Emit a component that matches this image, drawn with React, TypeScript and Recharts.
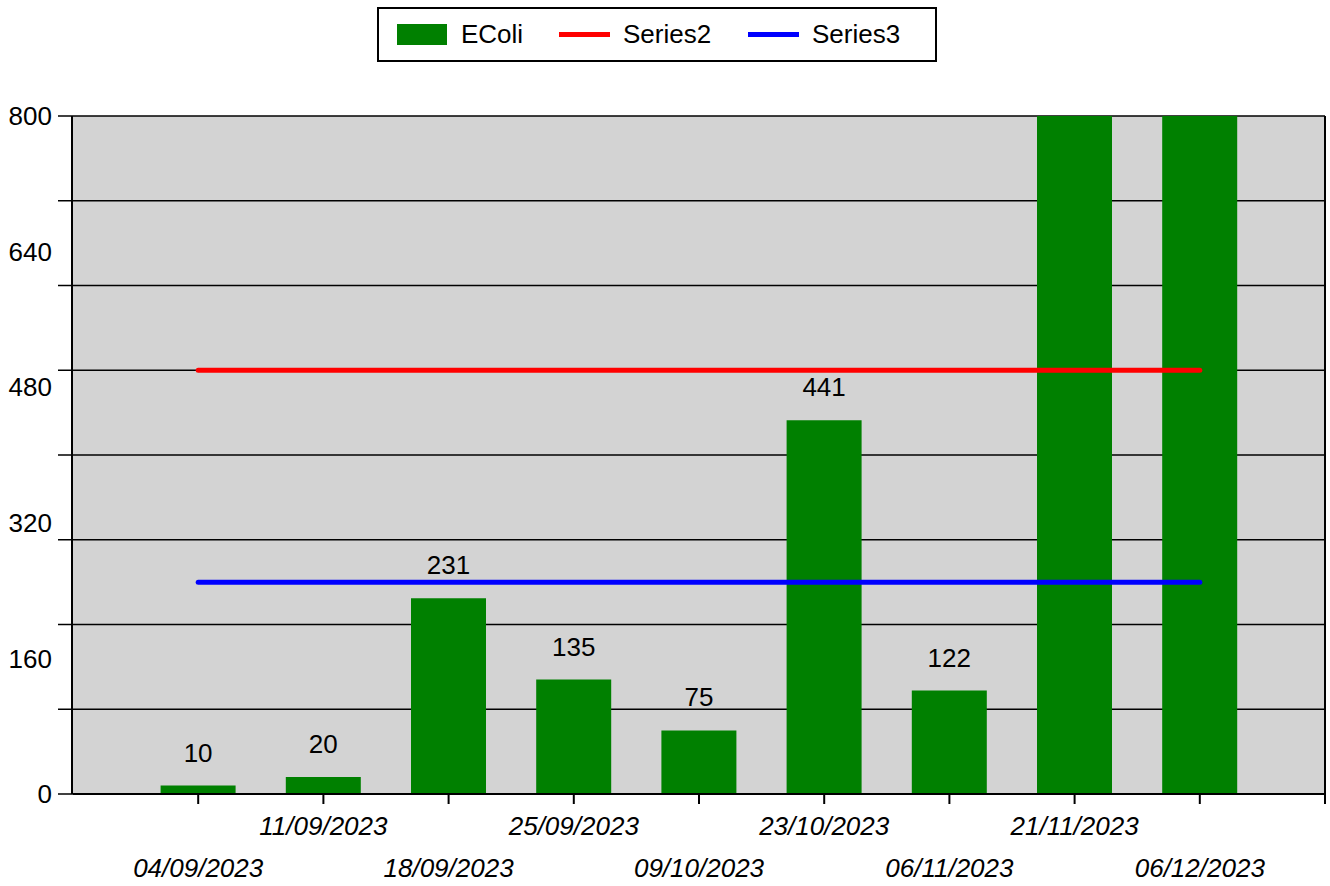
import React from "react";
import {
  ComposedChart,
  Bar,
  Line,
  XAxis,
  YAxis,
  CartesianGrid,
  Legend,
  LabelList,
} from "recharts";

const categories = [
  "04/09/2023",
  "11/09/2023",
  "18/09/2023",
  "25/09/2023",
  "09/10/2023",
  "23/10/2023",
  "06/11/2023",
  "21/11/2023",
  "06/12/2023",
];
const ecoli = [10, 20, 231, 135, 75, 441, 122, 1000, 1000];
const series2 = [500, 500, 500, 500, 500, 500, 500, 500, 500];
const series3 = [250, 250, 250, 250, 250, 250, 250, 250, 250];
const yLabelTicks = [0, 160, 320, 480, 640, 800];
const yGridTicks = [0, 100, 200, 300, 400, 500, 600, 700, 800];
const xTicks = [1, 2, 3, 4, 5, 6, 7, 8, 9, 10];

const data = categories.map((c, i) => ({
  x: i + 1,
  date: c,
  ecoli: ecoli[i],
  s2: series2[i],
  s3: series3[i],
}));

const FONT = "'Liberation Sans', Arial, sans-serif";
const FS = 26;

const XTick = (props: any) => {
  const { x, y, payload } = props;
  const idx = payload.value - 1;
  if (idx < 0 || idx >= categories.length) return null;
  const dy = idx % 2 === 0 ? 71 : 29;
  return (
    <text
      x={x}
      y={y + dy}
      textAnchor="middle"
      fontStyle="italic"
      fontFamily={FONT}
      fontSize={FS}
      fill="#000"
    >
      {categories[idx]}
    </text>
  );
};

const EmptyTick = () => <g />;

const BarLabel = (props: any) => {
  const { x, y, width, value } = props;
  if (value > 800) return null;
  return (
    <text
      x={x + width / 2}
      y={y - 24}
      textAnchor="middle"
      fontFamily={FONT}
      fontSize={FS}
      fill="#000"
    >
      {value}
    </text>
  );
};

const legendItems = [
  { name: "EColi", color: "#008000", kind: "rect", mx: 20, tx: 84 },
  { name: "Series2", color: "#ff0000", kind: "line", mx: 182, tx: 246 },
  { name: "Series3", color: "#0000ff", kind: "line", mx: 371, tx: 435 },
];

const LegendBox = () => (
  <div
    style={{
      position: "relative",
      width: 560,
      height: 55,
      boxSizing: "border-box",
      border: "2px solid #000",
      background: "#fff",
      fontFamily: FONT,
      fontSize: FS,
    }}
  >
    {legendItems.map((it) => (
      <React.Fragment key={it.name}>
        {it.kind === "rect" ? (
          <div
            style={{
              position: "absolute",
              left: it.mx - 2,
              top: 15,
              width: 50,
              height: 21,
              background: it.color,
            }}
          />
        ) : (
          <div
            style={{
              position: "absolute",
              left: it.mx - 2,
              top: 23,
              width: 51,
              height: 5,
              background: it.color,
            }}
          />
        )}
        <div
          style={{
            position: "absolute",
            left: it.tx - 2,
            top: 10,
            lineHeight: "30px",
            color: "#000",
            whiteSpace: "nowrap",
          }}
        >
          {it.name}
        </div>
      </React.Fragment>
    ))}
  </div>
);

export default function App() {
  return (
    <div style={{ position: "absolute", left: 0, top: 0, width: 1330, height: 886, background: "#fff" }}>
      <ComposedChart
        width={1330}
        height={886}
        data={data}
        margin={{ top: 61, right: 4, bottom: 0, left: 0 }}
      >
        <CartesianGrid
          yAxisId="val"
          horizontal={true}
          vertical={false}
          horizontalValues={yGridTicks}
          fill="#d3d3d3"
          fillOpacity={1}
          stroke="#000"
          strokeWidth={1.5}
        />
        <XAxis
          type="number"
          dataKey="x"
          domain={[0, 10]}
          ticks={xTicks}
          interval={0}
          height={92}
          axisLine={{ stroke: "#000", strokeWidth: 2 }}
          tickLine={{ stroke: "#000", strokeWidth: 2 }}
          tickSize={10}
          tickMargin={2}
          tick={<XTick />}
        />
        <YAxis
          yAxisId="grid"
          domain={[0, 800]}
          allowDataOverflow={true}
          ticks={yGridTicks}
          interval={0}
          width={1}
          axisLine={false}
          tickLine={{ stroke: "#000", strokeWidth: 1.5 }}
          tickSize={15}
          tick={<EmptyTick />}
        />
        <YAxis
          yAxisId="val"
          domain={[0, 800]}
          allowDataOverflow={true}
          ticks={yLabelTicks}
          interval={0}
          width={72}
          axisLine={{ stroke: "#000", strokeWidth: 2 }}
          tickLine={false}
          tickSize={15}
          tickMargin={5}
          tick={{ fill: "#000", fontFamily: FONT, fontSize: FS }}
        />
        <YAxis
          yAxisId="right"
          orientation="right"
          domain={[0, 800]}
          width={1}
          axisLine={{ stroke: "#000", strokeWidth: 2 }}
          tickLine={false}
          tick={<EmptyTick />}
        />
        <Legend
          verticalAlign="top"
          content={() => <LegendBox />}
          wrapperStyle={{ position: "absolute", left: 377, top: 7, width: 560, height: 55 }}
        />
        <Bar
          yAxisId="val"
          dataKey="ecoli"
          name="EColi"
          fill="#008000"
          barSize={75}
          isAnimationActive={false}
        >
          <LabelList dataKey="ecoli" content={<BarLabel />} />
        </Bar>
        <Line
          yAxisId="val"
          dataKey="s2"
          name="Series2"
          stroke="#ff0000"
          strokeWidth={5}
          strokeLinecap="round"
          dot={false}
          isAnimationActive={false}
        />
        <Line
          yAxisId="val"
          dataKey="s3"
          name="Series3"
          stroke="#0000ff"
          strokeWidth={5}
          strokeLinecap="round"
          dot={false}
          isAnimationActive={false}
        />
      </ComposedChart>
    </div>
  );
}
